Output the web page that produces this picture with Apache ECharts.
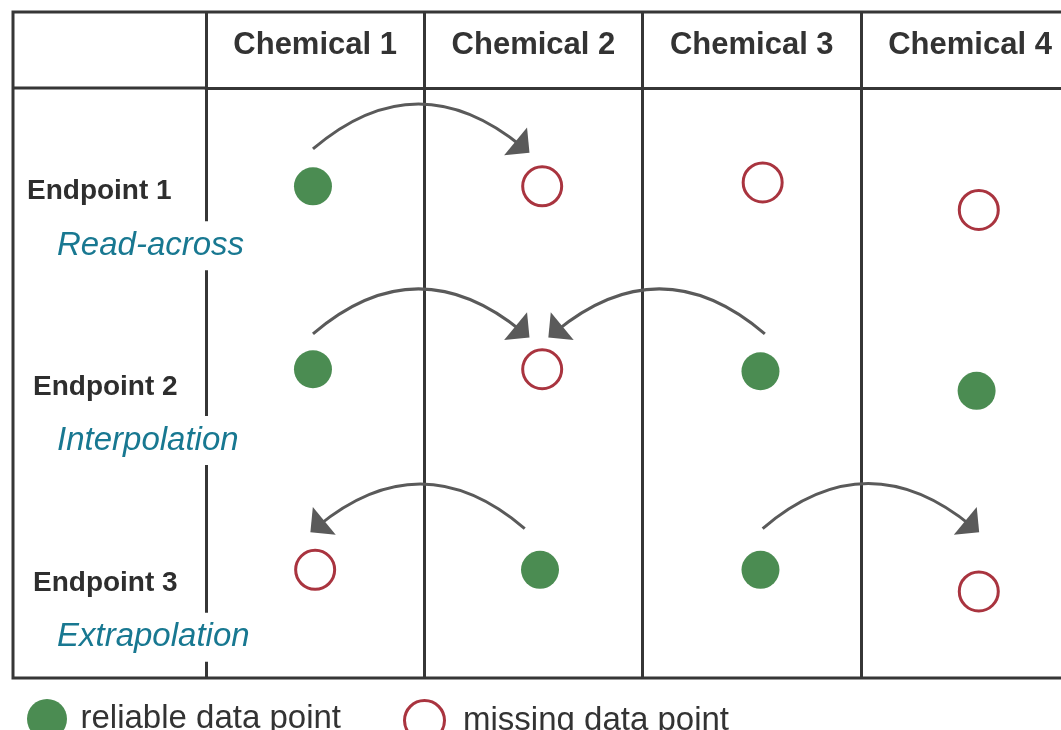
<!DOCTYPE html>
<html>
<head>
<meta charset="utf-8">
<script src="https://cdn.jsdelivr.net/npm/echarts@6.0.0/dist/echarts.min.js"></script>
<title>Read-across, interpolation, extrapolation</title>
<style>
    html, body { margin: 0; padding: 0; background: #fff; }
    #main { width: 1061px; height: 730px; }
</style>
</head>
<body>
<div id="main"></div>
<script type="text/javascript">
// column / row names
var chemicals = ['Chemical 1', 'Chemical 2', 'Chemical 3', 'Chemical 4'];
var endpoints = ['Endpoint 1', 'Endpoint 2', 'Endpoint 3'];
var methods = ['Read-across', 'Interpolation', 'Extrapolation'];

// 1 = reliable data point, 0 = missing data point (rows = endpoints, cols = chemicals)
var reliable = [
    [1, 0, 0, 0],
    [1, 0, 1, 1],
    [0, 1, 1, 0]
];
// where each point sits: x in chemical columns (0..4), y in endpoint rows (0..3)
var pointX = [
    [0.49, 1.54, 2.55, 3.54],
    [0.49, 1.54, 2.54, 3.53],
    [0.50, 1.53, 2.54, 3.54]
];
var pointY = [
    [0.50, 0.50, 0.48, 0.62],
    [1.43, 1.43, 1.44, 1.54],
    [2.45, 2.45, 2.45, 2.56]
];
// arrows, same units: start and end of each arc
var arrowFrom = [[0.49, 0.31], [0.49, 1.25], [2.56, 1.25], [1.46, 2.24], [2.55, 2.24]];
var arrowTo = [[1.45, 0.30], [1.45, 1.24], [1.60, 1.24], [0.51, 2.23], [3.51, 2.23]];

var myChart = echarts.init(document.getElementById('main'));

// table frame layout
var frameLeft = 13, frameTop = 12, headTop = 88, colLeft = 206, tableBottom = 678;
var colWidth = 218.3;
var lineColor = '#363636';

var reliableData = [], missingData = [];
endpoints.forEach(function (e, r) {
    chemicals.forEach(function (c, k) {
        var p = [pointX[r][k], pointY[r][k]];
        if (reliable[r][k]) reliableData.push(p); else missingData.push(p);
    });
});

var arrowData = arrowFrom.map(function (f, i) {
    var t = arrowTo[i];
    return { coords: [f, t], lineStyle: { curveness: t[0] > f[0] ? 0.42 : -0.42 } };
});

var option = {
    animation: false,
    textStyle: { fontFamily: 'Liberation Sans' },
    grid: {
        left: colLeft, top: headTop, width: colWidth * 4, height: tableBottom - headTop,
        containLabel: false, outerBoundsMode: 'none'
    },
    xAxis: [{
        type: 'value', min: 0, max: 4, interval: 1, position: 'top',
        axisLine: { onZero: false, lineStyle: { color: lineColor, width: 3 } },
        axisTick: { length: headTop - frameTop, lineStyle: { color: lineColor, width: 3 } },
        axisLabel: { show: false },
        splitLine: { show: true, lineStyle: { color: lineColor, width: 3 } }
    }, {
        type: 'category', data: chemicals, position: 'top',
        axisLine: { show: false }, axisTick: { show: false }, splitLine: { show: false },
        axisLabel: {
            interval: 0, margin: 43, verticalAlign: 'middle',
            fontSize: 31, fontWeight: 'bold', color: '#333'
        }
    }],
    yAxis: [{
        type: 'value', min: 0, max: 3, inverse: true, show: false, position: 'left'
    }, {
        type: 'category', data: endpoints, inverse: true, z: 10, position: 'left',
        axisLine: { show: false }, axisTick: { show: false }, splitLine: { show: false },
        axisLabel: {
            interval: 0, margin: colLeft - 27, align: 'left', verticalAlign: 'top',
            formatter: function (v, i) {
                return '{' + (i === 0 ? 'a' : 'a2') + '|' + v + '}\n{s| }\n{b|' + methods[i] + '}';
            },
            rich: {
                a: { fontSize: 28, fontWeight: 'bold', color: '#2e2e2e', lineHeight: 10 },
                a2: { fontSize: 28, fontWeight: 'bold', color: '#2e2e2e', lineHeight: 8, padding: [0, 0, 0, 6] },
                s: { fontSize: 10, lineHeight: 25 },
                b: {
                    fontSize: 33, fontStyle: 'italic', color: '#187891',
                    backgroundColor: '#fff', padding: [8, 6, 8, 30]
                }
            }
        }
    }],
    legend: [{
        data: [{ name: 'reliable data point', icon: 'circle' }],
        left: 22, top: 694, itemWidth: 57, itemHeight: 40, selectedMode: false,
        textStyle: { fontSize: 33, color: '#333' }
    }, {
        data: [{ name: 'missing data point', icon: 'circle', itemStyle: { borderWidth: 3 } }],
        left: 398, top: 694, itemWidth: 57, itemHeight: 40, selectedMode: false,
        textStyle: { fontSize: 33, color: '#333', padding: [0, 0, 0, 5] }
    }],
    graphic: [{
        type: 'rect',
        shape: { x: frameLeft, y: frameTop, width: 1200, height: tableBottom - frameTop },
        style: { fill: 'none', stroke: lineColor, lineWidth: 3 }
    }, {
        type: 'line',
        shape: { x1: frameLeft, y1: headTop, x2: colLeft, y2: headTop },
        style: { stroke: lineColor, lineWidth: 3 }
    }],
    series: [{
        name: 'reliable data point', type: 'scatter', symbolSize: 38, z: 3,
        itemStyle: { color: '#4b8c52', opacity: 1 },
        data: reliableData
    }, {
        name: 'missing data point', type: 'scatter', symbolSize: 39, z: 3,
        itemStyle: { color: '#fff', borderColor: '#a9343f', borderWidth: 3, opacity: 1 },
        data: missingData
    }, {
        type: 'lines', coordinateSystem: 'cartesian2d', silent: true,
        symbol: ['none', 'triangle'], symbolSize: [0, [36, 18]],
        lineStyle: { color: '#5a5a5a', width: 3, opacity: 1 },
        data: arrowData
    }]
};

myChart.setOption(option);
</script>
</body>
</html>
